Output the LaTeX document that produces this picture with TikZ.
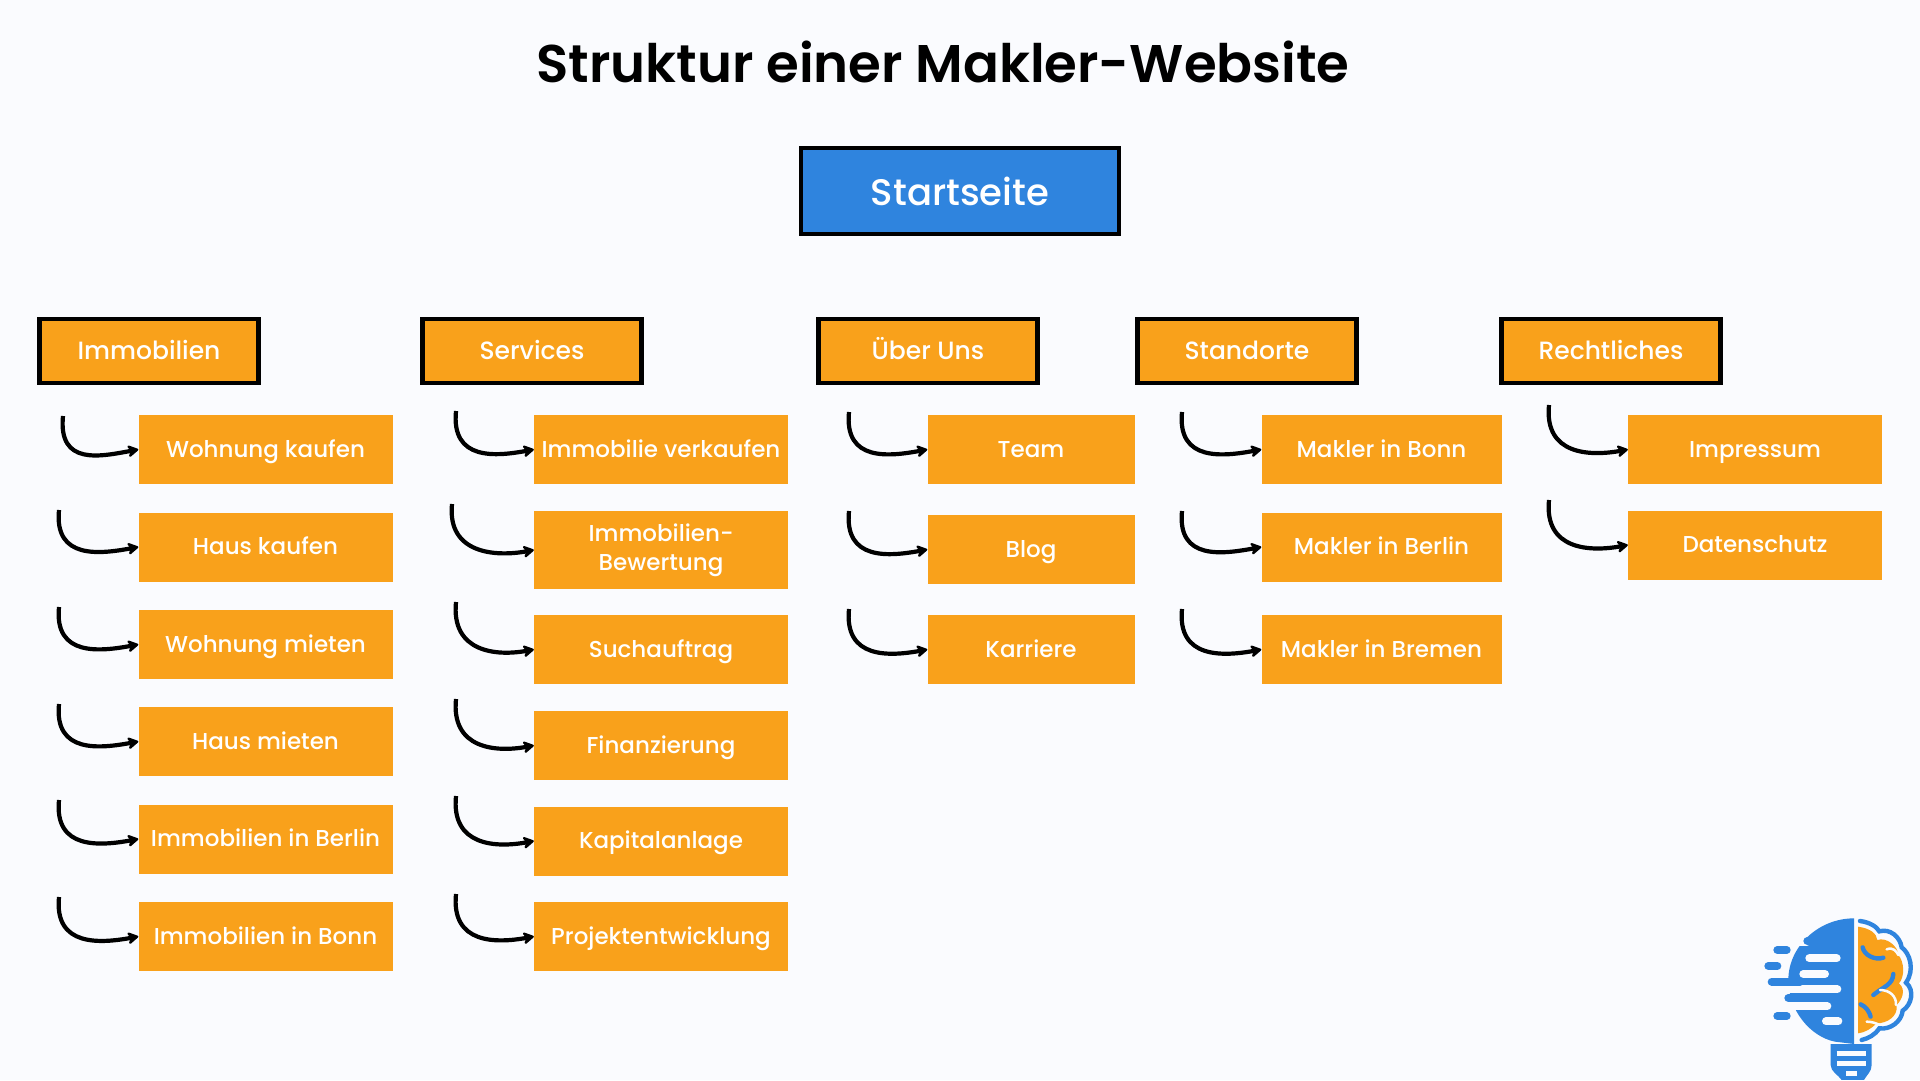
\documentclass[tikz,border=0pt]{standalone}
\usepackage{fontspec}
\setmainfont{Poppins}
\newfontfamily\boxfont{Poppins Medium}
\newfontfamily\titlefont{Poppins SemiBold}
\usetikzlibrary{arrows.meta,positioning}
\definecolor{pagebg}{HTML}{FAFBFE}
\definecolor{boxorange}{HTML}{F9A11B}
\definecolor{topblue}{HTML}{2F84DE}
\tikzset{
topbox/.style={draw=black,line width=4.5pt,fill=topblue,text=white,minimum width=318pt,minimum height=86pt,font=\boxfont\fontsize{37}{42}\selectfont},
catbox/.style={draw=black,line width=4.5pt,fill=boxorange,text=white,minimum width=219pt,minimum height=64pt,text height=21pt,text depth=5pt,font=\boxfont\fontsize{25}{32}\selectfont},
pagebox/.style={fill=boxorange,text=white,minimum width=254pt,minimum height=69pt,inner sep=0pt,align=center,text height=20pt,text depth=5pt,font=\boxfont\fontsize{23}{29}\selectfont},
curvearrow/.style={line width=4.2pt,-{Stealth[round,length=13pt,width=15pt]},to path={.. controls +(-5,50) and +(-38,7) .. (\tikztotarget)}}
}
\begin{document}
\begin{tikzpicture}[x=1pt,y=-1pt]
\fill[pagebg] (0,0) rectangle (1920,1080);
\useasboundingbox (0,0) rectangle (1920,1080);

\node[font=\titlefont\fontsize{53}{66}\selectfont] (title) at (943,62) {Struktur einer Makler-Website};
\node[topbox] (start) at (960,191) {Startseite};

\node[catbox] (immo) at (149,351) {Immobilien};
\node[catbox] (serv) at (532,351) {Services};
\node[catbox] (ueber) at (928,351) {Über Uns};
\node[catbox] (stand) at (1247,351) {Standorte};
\node[catbox] (recht) at (1611,351) {Rechtliches};

% first column
\node[pagebox] (wk) at (265.5,449.5) {Wohnung kaufen};
\node[pagebox] (hk) at (265.5,547) {Haus kaufen};
\node[pagebox] (wm) at (265.5,644.5) {Wohnung mieten};
\node[pagebox] (hm) at (265.5,741.5) {Haus mieten};
\node[pagebox] (ib) at (265.5,839) {Immobilien in Berlin};
\node[pagebox] (ibo) at (265.5,936.5) {Immobilien in Bonn};

% second column
\node[pagebox] (iv) at (661,449.5) {Immobilie verkaufen};
\node[pagebox,minimum height=78pt,text height={},text depth={}] (bew) at (661,550) {Immobilien-\\Bewertung};
\node[pagebox] (such) at (661,649.5) {Suchauftrag};
\node[pagebox] (fin) at (661,745.5) {Finanzierung};
\node[pagebox] (kap) at (661,841) {Kapitalanlage};
\node[pagebox] (proj) at (661,936.5) {Projektentwicklung};

% third column
\node[pagebox,minimum width=207pt] (team) at (1031,449.5) {Team};
\node[pagebox,minimum width=207pt] (blog) at (1031,549.5) {Blog};
\node[pagebox,minimum width=207pt] (karr) at (1031,649.5) {Karriere};

% fourth column
\node[pagebox,minimum width=240pt] (mbo) at (1381.5,449.5) {Makler in Bonn};
\node[pagebox,minimum width=240pt] (mbe) at (1381.5,547) {Makler in Berlin};
\node[pagebox,minimum width=240pt] (mbr) at (1381.5,649.5) {Makler in Bremen};

% fifth column
\node[pagebox] (imp) at (1755,449.5) {Impressum};
\node[pagebox] (dat) at (1755,545) {Datenschutz};

\coordinate (a1) at (63,416);
\coordinate (a2) at (59,510);
\coordinate (a3) at (59,607);
\coordinate (a4) at (59,704);
\coordinate (a5) at (59,800);
\coordinate (a6) at (59,897);
\coordinate (b1) at (456,411);
\coordinate (b2) at (452,504);
\coordinate (b3) at (456,602);
\coordinate (b4) at (456,699);
\coordinate (b5) at (456,796);
\coordinate (b6) at (456,894);
\coordinate (c1) at (849,412);
\coordinate (c2) at (849,511);
\coordinate (c3) at (849,609);
\coordinate (d1) at (1182,412);
\coordinate (d2) at (1182,511);
\coordinate (d3) at (1182,609);
\coordinate (e1) at (1549,405);
\coordinate (e2) at (1549,500);

\path (a1) edge[curvearrow] (wk.west)
      (a2) edge[curvearrow] (hk.west)
      (a3) edge[curvearrow] (wm.west)
      (a4) edge[curvearrow] (hm.west)
      (a5) edge[curvearrow] (ib.west)
      (a6) edge[curvearrow] (ibo.west)
      (b1) edge[curvearrow] (iv.west)
      (b2) edge[curvearrow] (bew.west)
      (b3) edge[curvearrow] (such.west)
      (b4) edge[curvearrow] (fin.west)
      (b5) edge[curvearrow] (kap.west)
      (b6) edge[curvearrow] (proj.west)
      (c1) edge[curvearrow] (team.west)
      (c2) edge[curvearrow] (blog.west)
      (c3) edge[curvearrow] (karr.west)
      (d1) edge[curvearrow] (mbo.west)
      (d2) edge[curvearrow] (mbe.west)
      (d3) edge[curvearrow] (mbr.west)
      (e1) edge[curvearrow] (imp.west)
      (e2) edge[curvearrow] (dat.west);

% logo
\begin{scope}[shift={(1720,890)},x=0.3333pt,y=-0.3333pt]
\fill[topblue] (402,85) .. controls (295,85) and (205,170) .. (205,270)
  .. controls (205,360) and (270,440) .. (345,455) -- (402,462) -- cycle;
\draw[pagebg,line width=8pt,line cap=round] (268,205) -- (350,205) (250,252) -- (315,252)
  (175,298) -- (352,298) (170,349) -- (322,349) (318,394) -- (355,394) (190,155) -- (260,155);
\draw[topblue,line width=8pt,line cap=round] (172,180) -- (200,180) (145,228) -- (172,228)
  (155,275) -- (240,275) (205,324) -- (300,324) (172,378) -- (200,378) (262,153) -- (288,153);
% socket
\fill[topblue] (332,462) -- (455,462) -- (455,525) .. controls (455,545) and (440,555) .. (432,570)
  -- (365,570) .. controls (355,555) and (332,545) .. (332,525) -- cycle;
\draw[pagebg,line width=5pt] (350,490) -- (438,490) (352,522) -- (438,522) (378,550) -- (412,550);
% brain
\fill[boxorange] (414,110) .. controls (450,115) and (470,130) .. (472,150)
  .. controls (500,140) and (535,170) .. (535,195) .. controls (553,215) and (555,260) .. (537,280)
  .. controls (560,300) and (545,330) .. (530,345) .. controls (535,380) and (500,400) .. (470,400)
  .. controls (455,415) and (435,428) .. (414,430) -- cycle;
\draw[topblue,line width=4.4pt,line cap=round] (420,93) .. controls (450,97) and (470,110) .. (478,124)
  .. controls (510,115) and (540,140) .. (545,172) .. controls (570,190) and (585,240) .. (558,278)
  .. controls (585,300) and (575,345) .. (548,362) .. controls (545,395) and (510,420) .. (478,415)
  .. controls (465,435) and (445,445) .. (425,450);
\draw[topblue,line width=4.4pt,line cap=round] (428,172) .. controls (432,195) and (465,212) .. (490,203)
  (520,252) .. controls (518,285) and (490,290) .. (460,315)
  (422,343) .. controls (438,350) and (448,365) .. (452,380);
\draw[pagebg,line width=2.5pt,line cap=round] (500,178) .. controls (520,170) and (530,185) .. (535,195)
  (480,300) .. controls (510,300) and (530,320) .. (528,345)
  (440,395) .. controls (455,395) and (470,400) .. (478,405);
\end{scope}
\end{tikzpicture}
\end{document}
